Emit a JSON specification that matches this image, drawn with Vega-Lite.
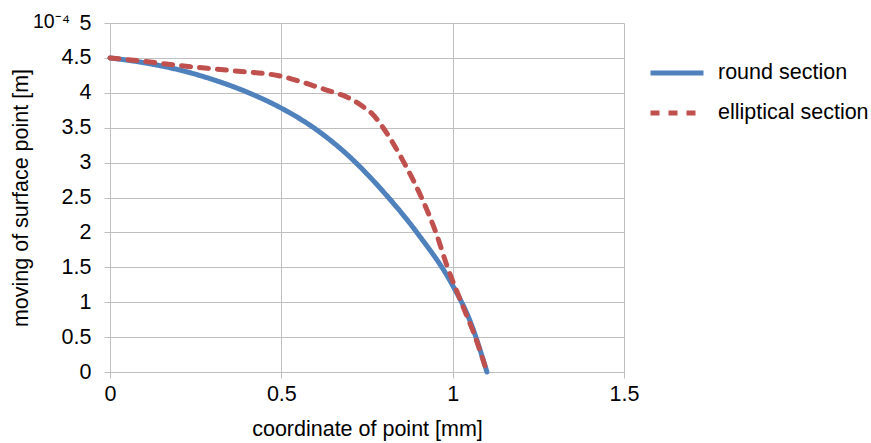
{
  "$schema": "https://vega.github.io/schema/vega-lite/v6.json",
  "width": 514,
  "height": 349,
  "autosize": {"type": "none"},
  "padding": {"left": 110, "top": 23, "right": 247, "bottom": 71},
  "background": "white",
  "title": {
    "text": "10⁻⁴",
    "anchor": "start",
    "frame": "group",
    "orient": "top",
    "dx": -77,
    "dy": 20,
    "offset": 0,
    "font": "Liberation Sans",
    "fontSize": 19.5,
    "fontWeight": "normal",
    "color": "#000000"
  },
  "data": {
    "values": [
      {"series": "round section", "x": 0, "y": 4.5},
      {"series": "round section", "x": 0.1, "y": 4.43},
      {"series": "round section", "x": 0.2, "y": 4.33},
      {"series": "round section", "x": 0.3, "y": 4.19},
      {"series": "round section", "x": 0.4, "y": 4.01},
      {"series": "round section", "x": 0.5, "y": 3.78},
      {"series": "round section", "x": 0.6, "y": 3.48},
      {"series": "round section", "x": 0.7, "y": 3.08},
      {"series": "round section", "x": 0.8, "y": 2.57},
      {"series": "round section", "x": 0.9, "y": 1.97},
      {"series": "round section", "x": 1.0, "y": 1.24},
      {"series": "round section", "x": 1.05, "y": 0.74},
      {"series": "round section", "x": 1.1, "y": 0},
      {"series": "elliptical section", "x": 0, "y": 4.5},
      {"series": "elliptical section", "x": 0.1, "y": 4.45},
      {"series": "elliptical section", "x": 0.204, "y": 4.39},
      {"series": "elliptical section", "x": 0.35, "y": 4.32},
      {"series": "elliptical section", "x": 0.496, "y": 4.24},
      {"series": "elliptical section", "x": 0.57, "y": 4.14},
      {"series": "elliptical section", "x": 0.613, "y": 4.07},
      {"series": "elliptical section", "x": 0.657, "y": 4.0},
      {"series": "elliptical section", "x": 0.691, "y": 3.94},
      {"series": "elliptical section", "x": 0.739, "y": 3.8},
      {"series": "elliptical section", "x": 0.765, "y": 3.7},
      {"series": "elliptical section", "x": 0.797, "y": 3.5},
      {"series": "elliptical section", "x": 0.858, "y": 3.0},
      {"series": "elliptical section", "x": 0.909, "y": 2.5},
      {"series": "elliptical section", "x": 0.951, "y": 2.0},
      {"series": "elliptical section", "x": 0.985, "y": 1.5},
      {"series": "elliptical section", "x": 1.025, "y": 1.0},
      {"series": "elliptical section", "x": 1.066, "y": 0.5},
      {"series": "elliptical section", "x": 1.1, "y": 0}
    ]
  },
  "mark": {"type": "line", "interpolate": "monotone", "strokeWidth": 5, "strokeCap": "round"},
  "encoding": {
    "x": {
      "field": "x",
      "type": "quantitative",
      "scale": {"domain": [0, 1.5], "nice": false, "zero": false},
      "axis": {
        "values": [0, 0.5, 1, 1.5],
        "format": "~g",
        "title": "coordinate of point [mm]",
        "labelPadding": 5,
        "titlePadding": 14
      }
    },
    "y": {
      "field": "y",
      "type": "quantitative",
      "scale": {"domain": [0, 5], "nice": false},
      "axis": {
        "values": [0, 0.5, 1, 1.5, 2, 2.5, 3, 3.5, 4, 4.5, 5],
        "format": "~g",
        "title": "moving of surface point [m]",
        "labelPadding": 13,
        "titlePadding": 29
      }
    },
    "color": {
      "field": "series",
      "type": "nominal",
      "scale": {"domain": ["round section", "elliptical section"], "range": ["#4F81BD", "#C0504D"]},
      "title": null
    },
    "strokeDash": {
      "field": "series",
      "type": "nominal",
      "scale": {"domain": ["round section", "elliptical section"], "range": [[1, 0], [9, 9]]},
      "title": null
    }
  },
  "config": {
    "view": {"stroke": null},
    "axis": {
      "grid": true,
      "gridColor": "#BFBFBF",
      "gridWidth": 1,
      "domainColor": "#BFBFBF",
      "domainWidth": 1,
      "tickColor": "#BFBFBF",
      "tickSize": 6,
      "labelFont": "Liberation Sans",
      "labelFontSize": 21.5,
      "labelColor": "#000000",
      "titleFont": "Liberation Sans",
      "titleFontSize": 21.5,
      "titleFontWeight": "normal",
      "titleColor": "#000000",
      "labelFlush": false,
      "labelOverlap": false
    },
    "legend": {
      "orient": "none",
      "legendX": 538,
      "legendY": 21,
      "padding": 0,
      "symbolType": "stroke",
      "symbolSize": 2809,
      "symbolStrokeWidth": 5,
      "labelFont": "Liberation Sans",
      "labelFontSize": 21.5,
      "labelColor": "#000000",
      "labelOffset": 12,
      "rowPadding": -7
    }
  }
}
